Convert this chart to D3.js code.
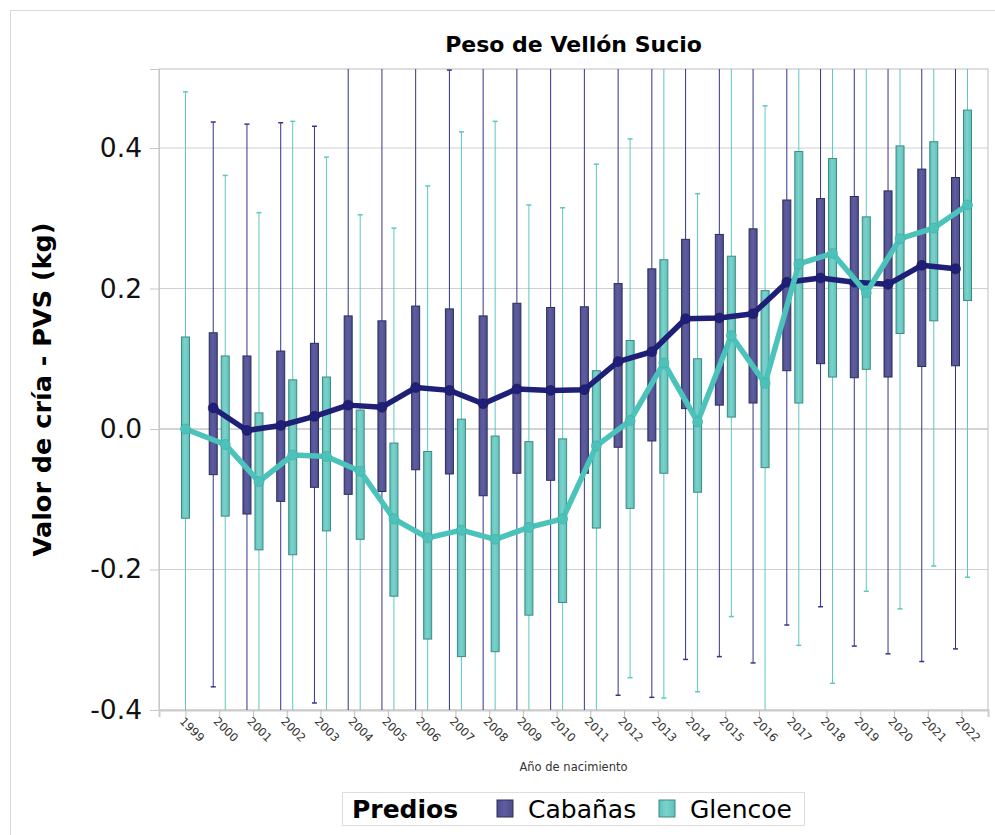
<!DOCTYPE html>
<html>
<head>
<meta charset="utf-8">
<script src="https://cdn.jsdelivr.net/npm/d3@7"></script>
<style>
  html, body { margin: 0; padding: 0; background: #fff; }
  svg { display: block; font-family: "DejaVu Sans", sans-serif; }
</style>
</head>
<body>
<svg id="chart" width="995" height="835"></svg>
<script>
// Breeding values for dirty fleece weight (PVS), by birth year and farm
const years = ["1999","2000","2001","2002","2003","2004","2005","2006","2007","2008","2009","2010",
               "2011","2012","2013","2014","2015","2016","2017","2018","2019","2020","2021","2022"];
const groups = ["Cabañas", "Glencoe"];
const yTicks = [-0.4, -0.2, 0.0, 0.2, 0.4];

// Cabañas: mean, box (low/high) and whisker (min/max)
const cabMean = [null, 0.030, -0.002, 0.005, 0.018, 0.034, 0.031, 0.059, 0.055, 0.036, 0.057, 0.055,
                 0.056, 0.096, 0.110, 0.157, 0.158, 0.164, 0.209, 0.215, 0.209, 0.206, 0.233, 0.228];
const cabLow  = [null, -0.065, -0.121, -0.103, -0.083, -0.093, -0.089, -0.058, -0.064, -0.095, -0.063, -0.073,
                 -0.063, -0.026, -0.017, 0.029, 0.034, 0.037, 0.083, 0.093, 0.073, 0.074, 0.089, 0.090];
const cabHigh = [null, 0.137, 0.104, 0.111, 0.122, 0.161, 0.154, 0.175, 0.171, 0.161, 0.179, 0.173,
                 0.174, 0.207, 0.228, 0.270, 0.277, 0.285, 0.326, 0.328, 0.331, 0.339, 0.370, 0.358];
const cabMin  = [null, -0.367, -0.45, -0.44, -0.390, -0.46, -0.45, -0.43, -0.44, -0.46, -0.45, -0.44,
                 -0.43, -0.379, -0.382, -0.328, -0.324, -0.333, -0.279, -0.253, -0.309, -0.320, -0.331, -0.313];
const cabMax  = [null, 0.437, 0.434, 0.436, 0.431, 0.54, 0.55, 0.56, 0.511, 0.55, 0.56, 0.56,
                 0.56, 0.60, 0.62, 0.64, 0.65, 0.66, 0.70, 0.70, 0.72, 0.72, 0.76, 0.76];

// Glencoe: mean, box (low/high) and whisker (min/max)
const glMean = [0.000, -0.022, -0.075, -0.037, -0.039, -0.060, -0.128, -0.155, -0.144, -0.157, -0.140, -0.128,
                -0.024, 0.012, 0.094, 0.010, 0.133, 0.065, 0.235, 0.250, 0.194, 0.271, 0.286, 0.319];
const glLow  = [-0.127, -0.124, -0.172, -0.179, -0.145, -0.157, -0.238, -0.299, -0.324, -0.317, -0.265, -0.247,
                -0.141, -0.113, -0.063, -0.090, 0.017, -0.055, 0.037, 0.074, 0.085, 0.136, 0.154, 0.183];
const glHigh = [0.131, 0.104, 0.023, 0.070, 0.074, 0.027, -0.020, -0.032, 0.014, -0.010, -0.018, -0.014,
                0.083, 0.126, 0.241, 0.100, 0.246, 0.197, 0.395, 0.385, 0.302, 0.403, 0.409, 0.454];
const glMin  = [-0.46, -0.45, -0.44, -0.45, -0.43, -0.44, -0.45, -0.47, -0.48, -0.47, -0.44, -0.43,
                -0.42, -0.354, -0.383, -0.374, -0.267, -0.41, -0.308, -0.362, -0.231, -0.256, -0.195, -0.211];
const glMax  = [0.480, 0.361, 0.308, 0.438, 0.387, 0.305, 0.286, 0.346, 0.423, 0.438, 0.319, 0.315,
                0.377, 0.413, 0.53, 0.335, 0.56, 0.460, 0.65, 0.66, 0.58, 0.66, 0.67, 0.72];

const colors = {
  "Cabañas": { box: "#4e4e8e", boxLight: "#5d5da0", edge: "#2c2c5e", whisker: "#34348a", line: "#1f1f78", marker: "#1a1a5e" },
  "Glencoe": { box: "#5fc2ba", boxLight: "#7ad2cb", edge: "#3c8a84", whisker: "#5cc8c0", line: "#4bc3bb", marker: "#47a8a0" }
};

function buildRows(g, mean, low, high, mn, mx) {
  return years.map((yr, i) => ({ group: g, year: yr, mean: mean[i], low: low[i], high: high[i], min: mn[i], max: mx[i] }))
              .filter(d => d.mean !== null);
}
const series = {
  "Cabañas": buildRows("Cabañas", cabMean, cabLow, cabHigh, cabMin, cabMax),
  "Glencoe": buildRows("Glencoe", glMean, glLow, glHigh, glMin, glMax)
};

const plot = { left: 159, right: 988, top: 69, bottom: 710 };
const svg = d3.select("#chart");

// Outer frame
svg.append("rect").attr("x", 10.5).attr("y", 10.5).attr("width", 1000).attr("height", 900)
   .attr("fill", "none").attr("stroke", "#d9d9d9");

const x = d3.scalePoint().domain(years).range([plot.left, plot.right]).padding(0.785);
const y = d3.scaleLinear().domain([-0.4, 0.5125]).range([plot.bottom, plot.top]);

// Cluster offset: centered when only one farm has data in that year
const present = {};
years.forEach(yr => { present[yr] = groups.filter(g => series[g].some(d => d.year === yr)); });
const off = 6;
function cx(d) {
  const p = present[d.year];
  if (p.length < 2) return x(d.year);
  return x(d.year) + (p.indexOf(d.group) === 0 ? -off : off);
}

const defs = svg.append("defs");
defs.append("clipPath").attr("id", "plotClip").append("rect")
  .attr("x", plot.left).attr("y", plot.top).attr("width", plot.right - plot.left).attr("height", plot.bottom - plot.top);
groups.forEach((g, k) => {
  const grad = defs.append("linearGradient").attr("id", "grad" + k).attr("x1", "0").attr("x2", "1").attr("y1", "0").attr("y2", "0");
  grad.append("stop").attr("offset", "0%").attr("stop-color", colors[g].box);
  grad.append("stop").attr("offset", "45%").attr("stop-color", colors[g].boxLight);
  grad.append("stop").attr("offset", "100%").attr("stop-color", colors[g].box);
});

// Horizontal grid lines
svg.append("g").selectAll("line").data(yTicks.filter(v => v > -0.4)).join("line")
  .attr("x1", plot.left).attr("x2", plot.right)
  .attr("y1", d => y(d)).attr("y2", d => y(d))
  .attr("stroke", d => d === 0 ? "#a8a8a8" : "#cfcfcf").attr("stroke-width", 1);

// Plot frame
svg.append("rect").attr("x", plot.left).attr("y", plot.top)
  .attr("width", plot.right - plot.left).attr("height", plot.bottom - plot.top)
  .attr("fill", "none").attr("stroke", "#c8c8c8").attr("stroke-width", 1.2);

// Y axis
const yAxis = svg.append("g").attr("transform", `translate(${plot.left},0)`)
  .call(d3.axisLeft(y).tickValues(yTicks).tickFormat(d => d.toFixed(1)).tickSizeOuter(0).tickSize(9).tickPadding(8));
yAxis.select(".domain").attr("stroke", "#c8c8c8");
yAxis.selectAll(".tick line").attr("stroke", "#c8c8c8");
yAxis.selectAll(".tick text").attr("font-size", 26.5).attr("fill", "#111").attr("font-family", "DejaVu Sans");

// X axis
const xAxis = svg.append("g").attr("transform", `translate(0,${plot.bottom})`)
  .call(d3.axisBottom(x).tickSizeOuter(0).tickSize(7));
xAxis.select(".domain").attr("stroke", "#cccccc").attr("stroke-width", 2);
xAxis.selectAll(".tick line").attr("stroke", "#bdbdbd");
xAxis.selectAll(".tick text")
  .attr("font-size", 11.5).attr("fill", "#333").attr("font-family", "DejaVu Sans")
  .attr("text-anchor", "start").attr("dy", null).attr("y", 0)
  .attr("transform", "translate(-7,12) rotate(45)");

// Marks
const marks = svg.append("g").attr("clip-path", "url(#plotClip)");
groups.forEach(g => {
  const c = colors[g];
  const gg = marks.append("g");
  gg.selectAll("line.whisker").data(series[g]).join("line").attr("class", "whisker")
    .attr("x1", cx).attr("x2", cx).attr("y1", d => y(d.min)).attr("y2", d => y(d.max))
    .attr("stroke", c.whisker).attr("stroke-width", 1);
  ["min", "max"].forEach(key => {
    gg.selectAll("line.cap-" + key).data(series[g]).join("line").attr("class", "cap-" + key)
      .attr("x1", d => cx(d) - 2.5).attr("x2", d => cx(d) + 2.5)
      .attr("y1", d => y(d[key])).attr("y2", d => y(d[key]))
      .attr("stroke", c.whisker).attr("stroke-width", 1.5);
  });
});
groups.forEach((g, k) => {
  const c = colors[g];
  marks.append("g").selectAll("rect").data(series[g]).join("rect")
    .attr("x", d => cx(d) - 4).attr("width", 8)
    .attr("y", d => y(d.high)).attr("height", d => y(d.low) - y(d.high))
    .attr("fill", `url(#grad${k})`).attr("stroke", c.edge).attr("stroke-width", 1);
});
const line = d3.line().x(cx).y(d => y(d.mean));
groups.forEach(g => {
  const c = colors[g];
  const lg = marks.append("g");
  lg.append("path").datum(series[g]).attr("d", line)
    .attr("fill", "none").attr("stroke", c.line).attr("stroke-width", 5.5)
    .attr("stroke-linejoin", "round").attr("stroke-linecap", "round");
  lg.selectAll("circle").data(series[g]).join("circle")
    .attr("cx", cx).attr("cy", d => y(d.mean)).attr("r", 5)
    .attr("fill", c.line).attr("stroke", c.marker).attr("stroke-opacity", 0.6).attr("stroke-width", 1);
});

// Titles
svg.append("text").attr("x", (plot.left + plot.right) / 2).attr("y", 52)
  .attr("text-anchor", "middle").attr("font-size", 22).attr("font-weight", "bold").attr("fill", "#000")
  .text("Peso de Vellón Sucio");
svg.append("text").attr("transform", `translate(51,${(plot.top + plot.bottom) / 2}) rotate(-90)`)
  .attr("text-anchor", "middle").attr("font-size", 25.5).attr("font-weight", "bold").attr("fill", "#000")
  .text("Valor de cría - PVS (kg)");
svg.append("text").attr("x", (plot.left + plot.right) / 2).attr("y", 771)
  .attr("text-anchor", "middle").attr("font-size", 11.5).attr("fill", "#333")
  .text("Año de nacimiento");

// Legend
const legend = svg.append("g");
legend.append("rect").attr("x", 342.5).attr("y", 792.5).attr("width", 462).attr("height", 33)
  .attr("fill", "#fff").attr("stroke", "#dddddd");
legend.append("text").attr("x", 352).attr("y", 818).attr("font-size", 25).attr("font-weight", "bold").text("Predios");
const legendX = { "Cabañas": 497, "Glencoe": 659 };
groups.forEach((g, k) => {
  legend.append("rect").attr("x", legendX[g]).attr("y", 800).attr("width", 16).attr("height", 17)
    .attr("fill", `url(#grad${k})`).attr("stroke", colors[g].edge);
  legend.append("text").attr("x", legendX[g] + 31).attr("y", 818).attr("font-size", 25).text(g);
});
</script>
</body>
</html>
